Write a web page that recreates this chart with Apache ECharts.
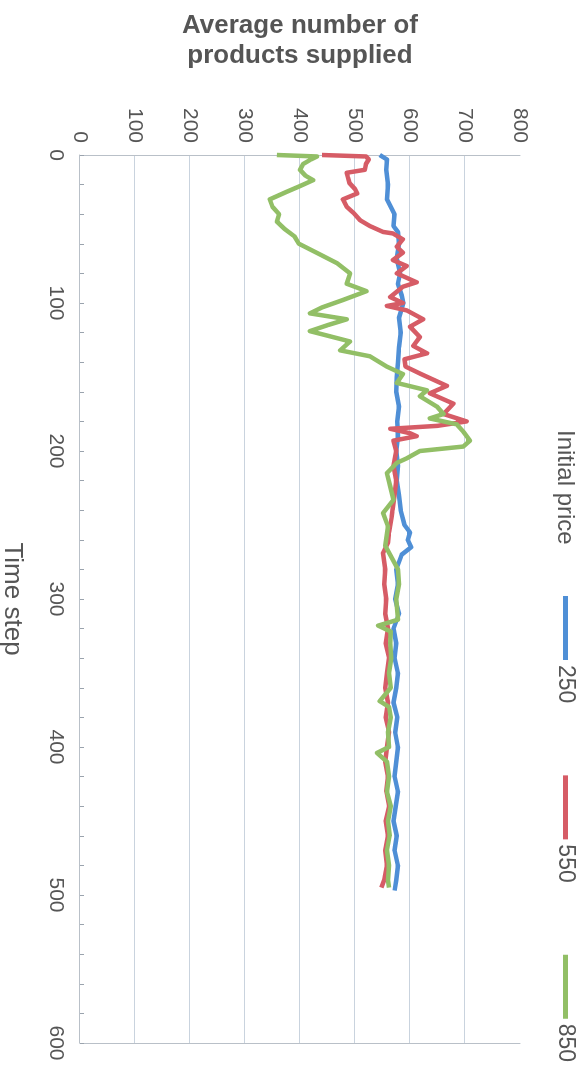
<!DOCTYPE html>
<html>
<head>
<meta charset="utf-8">
<script src="https://cdn.jsdelivr.net/npm/echarts@6/dist/echarts.min.js"></script>
<style>
    html, body {
        margin: 0;
        padding: 0;
        width: 586px;
        height: 1088px;
        overflow: hidden;
        background: #fff;
    }
    /* chart is drawn landscape, then turned a quarter clockwise like the printed page */
    #chart {
        position: absolute;
        left: 0;
        top: 0;
        width: 1088px;
        height: 586px;
        transform-origin: 0 0;
        transform: translateX(586px) rotate(90deg);
    }
</style>
</head>
<body>
<div id="chart"></div>
<script>
// time step readings and average products supplied, per initial price
var t250 = [0, 3, 10, 20, 30, 35, 40, 48, 52, 60, 70, 80, 87, 95, 100, 110, 120, 130, 140, 150, 160, 170, 180, 190, 200, 210, 220, 230, 240, 250, 255, 260, 265, 270, 280, 290, 300, 310, 320, 330, 340, 350, 360, 370, 380, 390, 400, 410, 420, 430, 440, 450, 460, 470, 480, 490, 497];
var v250 = [545, 558, 557, 560, 558, 565, 572, 570, 578, 580, 576, 582, 578, 585, 588, 580, 583, 580, 578, 576, 575, 580, 577, 578, 575, 578, 576, 580, 583, 590, 600, 596, 602, 585, 575, 578, 573, 580, 570, 575, 572, 578, 575, 570, 577, 573, 578, 575, 572, 578, 574, 570, 576, 572, 578, 575, 572];

var t550 = [0, 1, 3, 6, 10, 12, 15, 19, 23, 26, 30, 35, 39, 44, 48, 52, 53, 57, 62, 66, 71, 75, 80, 86, 89, 96, 100, 102, 105, 111, 116, 123, 129, 134, 138, 143, 148, 156, 161, 168, 175, 180, 183, 185, 188, 190, 193, 200, 210, 220, 230, 240, 244, 255, 262, 269, 280, 290, 300, 310, 320, 330, 340, 350, 360, 370, 380, 390, 400, 410, 420, 430, 440, 450, 460, 470, 480, 490, 495];
var v550 = [440, 520, 525, 520, 518, 485, 487, 490, 500, 504, 478, 485, 497, 509, 527, 551, 569, 587, 576, 587, 569, 594, 576, 612, 587, 564, 587, 558, 594, 624, 600, 618, 606, 631, 590, 592, 620, 667, 636, 679, 661, 703, 650, 564, 600, 612, 570, 575, 570, 575, 572, 568, 567, 562, 560, 551, 555, 553, 557, 555, 560, 556, 562, 558, 555, 560, 556, 562, 558, 555, 560, 557, 562, 556, 560, 555, 558, 553, 548];

var t850 = [0, 1, 3, 6, 10, 14, 17, 21, 25, 30, 35, 40, 45, 50, 55, 60, 66, 73, 80, 87, 92, 98, 103, 107, 111, 115, 119, 126, 132, 136, 143, 148, 154, 159, 163, 170, 175, 178, 182, 187, 193, 197, 200, 205, 208, 215, 224, 233, 242, 251, 264, 280, 290, 300, 314, 318, 322, 330, 340, 350, 360, 369, 373, 380, 390, 400, 404, 410, 420, 430, 440, 450, 460, 470, 480, 490, 495];
var v850 = [358, 431, 420, 406, 400, 410, 424, 400, 375, 345, 350, 362, 358, 372, 390, 398, 430, 467, 491, 485, 521, 478, 440, 418, 485, 450, 418, 491, 473, 527, 558, 587, 576, 631, 618, 649, 661, 636, 685, 697, 709, 697, 618, 594, 576, 558, 564, 570, 551, 560, 555, 578, 580, 575, 578, 542, 565, 564, 566, 562, 565, 545, 562, 565, 560, 562, 540, 558, 562, 558, 565, 560, 563, 558, 562, 560, 562];

var priceNames = ["250", "550", "850"];
var priceColors = ["#4f8fd6", "#d65c66", "#92bf66"];
var timeTicks = [0, 100, 200, 300, 400, 500, 600];
var supplyTicks = [0, 100, 200, 300, 400, 500, 600, 700, 800];

function zip(ts, vs) {
    var out = [];
    for (var i = 0; i < ts.length; i++) {
        out.push([ts[i], vs[i]]);
    }
    return out;
}

var textColor = "#555";
var fontFamily = "Liberation Sans, Arial, sans-serif";

var chart = echarts.init(document.getElementById("chart"));

var series = [zip(t250, v250), zip(t550, v550), zip(t850, v850)].map(function(d, i) {
    return {
        name: priceNames[i],
        type: "line",
        data: d,
        showSymbol: false,
        symbol: "none",
        color: priceColors[i],
        lineStyle: { width: 4.5, color: priceColors[i], join: "round" },
        animation: false
    };
});

chart.setOption({
    backgroundColor: "#fff",
    animation: false,
    textStyle: { fontFamily: fontFamily },
    title: {
        text: "Initial price",
        left: 430,
        top: 9,
        padding: 0,
        textStyle: { fontSize: 24, fontWeight: "normal", color: textColor, fontFamily: fontFamily }
    },
    legend: {
        data: priceNames,
        left: 596,
        top: 9,
        padding: 0,
        icon: "rect",
        itemWidth: 64,
        itemHeight: 5,
        itemGap: 72,
        textStyle: { fontSize: 23, color: textColor, fontFamily: fontFamily }
    },
    grid: { left: 155, right: 45, top: 66, bottom: 80, outerBoundsMode: "none" },
    xAxis: {
        type: "value",
        min: timeTicks[0],
        max: timeTicks[timeTicks.length - 1],
        interval: 100,
        name: "Time step",
        nameLocation: "middle",
        nameGap: 55,
        nameTextStyle: { fontSize: 26, color: textColor, fontFamily: fontFamily },
        axisLine: { show: true, lineStyle: { color: "#b9c0c8", width: 1 } },
        axisTick: { show: true, inside: true, length: 4, lineStyle: { color: "#9aa3ad" } },
        minorTick: { show: true, splitNumber: 5, length: 4, lineStyle: { color: "#9aa3ad" } },
        axisLabel: { fontSize: 21, color: textColor, margin: 14 },
        splitLine: { show: false }
    },
    yAxis: [
        {
            type: "value",
            min: supplyTicks[0],
            max: supplyTicks[supplyTicks.length - 1],
            interval: 100,
            name: "Average number of\nproducts supplied",
            nameLocation: "middle",
            nameRotate: 90,
            nameGap: 84,
            nameTextStyle: { fontSize: 26, fontWeight: "bold", color: textColor, lineHeight: 30, fontFamily: fontFamily },
            axisLine: { show: true, lineStyle: { color: "#b9c0c8", width: 1 } },
            axisTick: { show: false },
            axisLabel: { fontSize: 21, color: textColor, margin: 12 },
            splitLine: { show: true, showMaxLine: false, lineStyle: { color: "#c9d3de", width: 1 } }
        },
        {
            // closing frame line at time step 600
            type: "value",
            position: "right",
            min: supplyTicks[0],
            max: supplyTicks[supplyTicks.length - 1],
            axisLine: { show: true, lineStyle: { color: "#b9c0c8", width: 1 } },
            axisTick: { show: false },
            axisLabel: { show: false },
            splitLine: { show: false }
        }
    ],
    series: series
});
</script>
</body>
</html>
